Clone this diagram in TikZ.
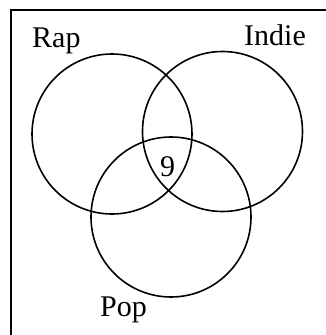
\documentclass[tikz,border=0pt]{standalone}
\usepackage{fontspec}
\setmainfont{Liberation Serif}
\begin{document}
\begin{tikzpicture}[x=1pt,y=-1pt,
  setc/.style={circle,draw,line width=1.6pt,minimum size=160pt,inner sep=0pt},
  lbl/.style={font=\fontsize{30}{30}\selectfont,inner sep=0pt,anchor=base west}]
\useasboundingbox (0,0) rectangle (326,335);
\coordinate (tl) at (11,10);
\coordinate (tr) at (326,10);
\coordinate (bl) at (11,335);
\draw[line width=1.6pt] (tr) -- (tl) -- (bl);
\node[setc] (rap) at (112,134) {};
\node[setc] (indie) at (222.5,131.5) {};
\node[setc] (pop) at (171,217) {};
\node[lbl] (raplbl) at (32,47) {Rap};
\node[lbl] (indielbl) at (244,45) {Indie};
\node[lbl] (poplbl) at (100,316) {Pop};
\node[lbl,anchor=base] (nine) at (167.5,176) {9};
\end{tikzpicture}
\end{document}
